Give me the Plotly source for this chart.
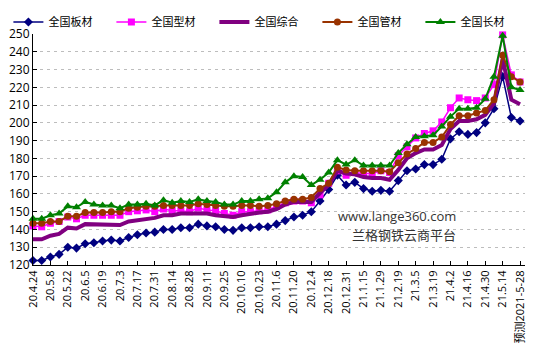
import plotly.graph_objects as go

dates = ["20.4.24", "20.5.1", "20.5.8", "20.5.15", "20.5.22", "20.5.29", "20.6.5", "20.6.12",
         "20.6.19", "20.6.26", "20.7.3", "20.7.10", "20.7.17", "20.7.24", "20.7.31", "20.8.7",
         "20.8.14", "20.8.21", "20.8.28", "20.9.4", "20.9.11", "20.9.18", "20.9.25", "20.9.30",
         "20.10.10", "20.10.16", "20.10.23", "20.10.30", "20.11.6", "20.11.13", "20.11.20", "20.11.27",
         "20.12.4", "20.12.11", "20.12.18", "20.12.25", "20.12.31", "21.1.8", "21.1.15", "21.1.22",
         "21.1.29", "21.2.5", "21.2.19", "21.2.26", "21.3.5", "21.3.12", "21.3.19", "21.3.26",
         "21.4.2", "21.4.9", "21.4.16", "21.4.23", "21.4.30", "21.5.7", "21.5.14", "21.5.21",
         "预测2021-5-28"]

plate = [122.5, 122.5, 124.5, 126, 130, 129.5, 132, 132.5, 133.5, 134, 133.5, 135.5, 137, 138,
         138.5, 140, 140, 141, 141, 143, 142, 141.5, 140, 139.5, 141, 141, 141.5, 141.5, 143,
         145, 147, 148, 150, 156, 162.5, 170.5, 165, 166.5, 163, 161.5, 162, 161.5, 167.5, 173,
         174, 176.5, 176.5, 179.5, 191, 195, 193.5, 194.5, 200, 208, 226, 203, 201]

section = [142, 141.5, 143.5, 144.5, 147, 146, 148, 148, 148, 148, 148, 150, 150.5,
           151, 150, 151.5, 150.5, 150.5, 150, 152, 151, 150.5, 149, 148, 150, 150, 150.5,
           151, 153, 155, 156, 156, 155, 159.5, 166, 173, 170.5, 172,
           171.5, 171.5,
           173, 172, 181.5, 186.5, 191.5, 194, 195.5, 200.5, 208.5, 214, 213, 212.5, 214,
           221.5, 249.5, 227, 223]

composite = [134.5, 134.5, 136.5, 137.5, 141, 140.5, 143, 143, 143, 143, 142.5, 144.5, 145,
             146, 146.5, 148, 148, 149, 149, 149.5, 149, 148, 147.5, 147, 148, 149,
             149.5, 150, 151.5, 154, 155.5, 155.5, 155.5, 160.5, 165, 173, 171.5, 171, 169.5, 169,
             169, 168, 173.5, 180, 183, 185, 185, 187.5, 196.5, 201, 201, 202, 204.5, 211,
             236, 213, 210.5]

pipe = [143.5, 143.5, 144.5, 144.5, 147.5, 147.5, 149.5, 149.5, 149.5, 150, 150, 152, 152.5,
        153, 153, 153.5, 153.5, 153.5, 153.5, 154.5, 154, 153.5, 153, 153, 153.5, 153.5,
        153,
        153.5, 154.5, 156, 157, 157, 158, 163, 166, 175, 173.5, 173, 173, 173,
        173, 172.5, 177.5, 182.5, 185.5, 189, 189, 192, 199, 204, 204, 205.5, 207, 213,
        238, 226, 223]

long_ = [146, 146, 148, 149, 153, 152.5, 155.5, 154, 153.5, 153.5, 152, 154, 154,
         154.5, 153.5, 156.5, 155, 156, 155.5, 157, 156, 155.5, 154, 154, 156,
         156, 157,
         157.5, 161, 166.5, 170, 169.5, 165, 168, 172, 179, 176.5, 179, 176, 176, 176, 176,
         183, 188, 192, 192.5, 193, 198, 203.5, 208, 208, 208.5, 213.5, 226, 249, 220, 218.5]

names = ["全国板材", "全国型材", "全国综合", "全国管材", "全国长材"]
tick_labels = dates[::2]

fig = go.Figure()
fig.add_trace(go.Scatter(x=dates, y=plate, name=names[0], mode="lines+markers",
                         line=dict(color="#000080", width=1.5),
                         marker=dict(symbol="diamond", size=7, color="#000080"),
                         cliponaxis=False))
fig.add_trace(go.Scatter(x=dates, y=section, name=names[1], mode="lines+markers",
                         line=dict(color="#FF00FF", width=1.5),
                         marker=dict(symbol="square", size=7, color="#FF00FF"),
                         cliponaxis=False))
fig.add_trace(go.Scatter(x=dates, y=composite, name=names[2], mode="lines",
                         line=dict(color="#800080", width=4),
                         cliponaxis=False))
fig.add_trace(go.Scatter(x=dates, y=pipe, name=names[3], mode="lines+markers",
                         line=dict(color="#993300", width=2),
                         marker=dict(symbol="circle", size=7, color="#993300"),
                         cliponaxis=False))
fig.add_trace(go.Scatter(x=dates, y=long_, name=names[4], mode="lines+markers",
                         line=dict(color="#008000", width=2),
                         marker=dict(symbol="triangle-up", size=8, color="#008000"),
                         cliponaxis=False))

fig.update_layout(
    width=535, height=353,
    margin=dict(l=30, r=8, t=24, b=88),
    paper_bgcolor="white", plot_bgcolor="white",
    font=dict(family="Open Sans, Noto Sans CJK SC, sans-serif", size=11, color="black"),
    showlegend=True,
    legend=dict(orientation="h", x=-0.05, xanchor="left", y=1.052, yanchor="middle",
                font=dict(size=11, family="Noto Sans CJK SC, sans-serif"),
                entrywidth=58, itemwidth=30, bgcolor="rgba(0,0,0,0)",
                tracegroupgap=0),
    xaxis=dict(type="category", range=[0, 56.57], tickmode="array", tickvals=tick_labels,
               ticktext=tick_labels, tickangle=-90, ticks="inside", ticklen=4,
               tickcolor="black", showline=True, linecolor="black", linewidth=1,
               showgrid=False, zeroline=False, tickfont=dict(size=11)),
    yaxis=dict(range=[120, 250], dtick=10, ticks="inside", ticklen=4, tickcolor="black",
               showline=True, linecolor="black", linewidth=1, showgrid=True,
               gridcolor="#BDBDBD", griddash="3px,4px", gridwidth=1, zeroline=False,
               tickfont=dict(size=12)),
    annotations=[
        dict(text="www.lange360.com", x=0.863, y=0.163, xref="paper", yref="paper",
             showarrow=False, font=dict(size=13, color="#333333",
                                        family="Open Sans, Noto Sans CJK SC, sans-serif")),
        dict(text="兰格钢铁云商平台", x=0.863, y=0.083, xref="paper", yref="paper",
             showarrow=False, font=dict(size=13, color="#333333",
                                        family="Noto Sans CJK SC, sans-serif")),
    ],
)

fig.write_html("out.html")
